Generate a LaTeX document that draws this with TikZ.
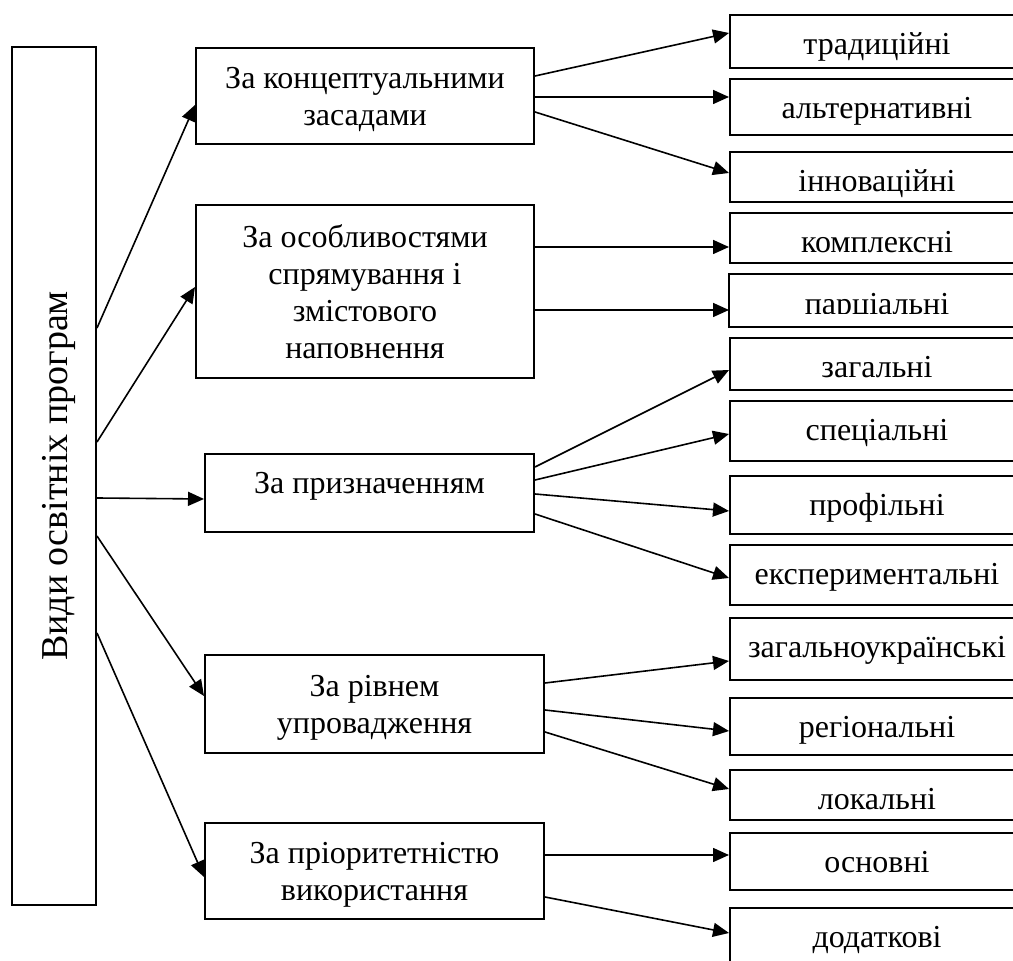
\documentclass[tikz,border=0pt]{standalone}
\usepackage{fontspec}
\setmainfont{Liberation Serif}
\usetikzlibrary{arrows.meta,calc}
\tikzset{
    boxline/.style={draw, line width=1pt, inner sep=0pt, font=\fontsize{16pt}{18.5pt}\selectfont},
    mainbox/.style={boxline, rotate=90, minimum width=429pt, text height=28pt, text depth=14pt, font=\fontsize{19pt}{22pt}\selectfont},
    catbox/.style={boxline, anchor=north west, align=center},
    leafbox/.style={boxline, anchor=north west, minimum width=147pt, text height=20pt, text depth=#1},
    arrow/.style={line width=0.8pt, -{Triangle[length=8pt, width=7pt]}}
}

\begin{document}
\begin{tikzpicture}[x=0.5pt, y=-0.5pt]
	\useasboundingbox (0,0) rectangle (1013,961);
	\clip (0,0) rectangle (1013,961);

	\node (main) [mainbox] at (54,476) {Види освітніх програм};

	\node (c1) [catbox, minimum width=169pt, minimum height=48pt, text depth=0pt] at (195,47) {За концептуальними\\засадами};
	\node (c2) [catbox, minimum width=169pt, minimum height=86.5pt] at (195,204) {За особливостями\\спрямування і\\змістового\\наповнення};
	\node (c3) [catbox, minimum width=164.5pt, text height=20pt, text depth=19pt] at (204,453) {За призначенням};
	\node (c4) [catbox, minimum width=169.5pt, minimum height=49pt, text depth=0pt] at (204,654) {За рівнем\\упровадження};
	\node (c5) [catbox, minimum width=169.5pt, minimum height=48pt, text depth=0pt] at (204,822) {За пріоритетністю\\використання};

	\node (r1) [leafbox=6.5pt] at (729,14) {традиційні};
	\node (r2) [leafbox=8pt] at (729,78) {альтернативні};
	\node (r3) [leafbox=5pt] at (729,151) {інноваційні};
	\node (r4) [leafbox=5pt] at (729,212) {комплексні};
	\begin{scope}
		\clip (729,274) rectangle (1013,314);
		\node (r5) [leafbox=5.5pt, draw=none] at (729,274) {парціальні};
	\end{scope}
	\draw [line width=1pt] (r5.north west) rectangle (r5.south east);
	\node (r6) [leafbox=6pt] at (729,337) {загальні};
	\node (r7) [leafbox=10pt] at (729,400) {спеціальні};
	\node (r8) [leafbox=9pt] at (729,475) {профільні};
	\node (r9) [leafbox=10pt] at (729,544) {експериментальні};
	\node (r10) [leafbox=11pt] at (729,617) {загальноукраїнські};
	\node (r11) [leafbox=8.5pt] at (729,697) {регіональні};
	\node (r12) [leafbox=5pt] at (729,769) {локальні};
	\node (r13) [leafbox=8.5pt] at (729,832) {основні};
	\node (r14) [leafbox=10pt] at (729,907) {додаткові};

	\draw [arrow] ($(main.south)+(0,-148)$) -- ($(c1.west)+(0,9)$);
	\draw [arrow] ($(main.south)+(0,-34)$) -- ($(c2.west)+(0,-4.5)$);
	\draw [arrow] ($(main.south)+(0,22)$) -- ($(c3.west)+(0,6)$);
	\draw [arrow] ($(main.south)+(0,60)$) -- ($(c4.west)+(0,-8)$);
	\draw [arrow] ($(main.south)+(0,157)$) -- ($(c5.west)+(0,6)$);

	\draw [arrow] ($(c1.east)+(0,-20)$) -- ($(r1.west)+(0,-8.5)$);
	\draw [arrow] ($(c1.east)+(0,1)$) -- ($(r2.west)+(0,-10)$);
	\draw [arrow] ($(c1.east)+(0,16)$) -- ($(r3.west)+(0,-4)$);
	\draw [arrow] ($(c2.east)+(0,-44.5)$) -- ($(r4.west)+(0,9)$);
	\draw [arrow] ($(c2.east)+(0,18.5)$) -- ($(r5.west)+(0,9.5)$);
	\draw [arrow] ($(c3.east)+(0,-26)$) -- ($(r6.west)+(0,6)$);
	\draw [arrow] ($(c3.east)+(0,-13)$) -- ($(r7.west)+(0,3)$);
	\draw [arrow] ($(c3.east)+(0,1)$) -- ($(r8.west)+(0,6)$);
	\draw [arrow] ($(c3.east)+(0,21)$) -- ($(r9.west)+(0,3)$);
	\draw [arrow] ($(c4.east)+(0,-21)$) -- ($(r10.west)+(0,12)$);
	\draw [arrow] ($(c4.east)+(0,6)$) -- ($(r11.west)+(0,4.5)$);
	\draw [arrow] ($(c4.east)+(0,28)$) -- ($(r12.west)+(0,-6)$);
	\draw [arrow] ($(c5.east)+(0,-16)$) -- ($(r13.west)+(0,-6.5)$);
	\draw [arrow] ($(c5.east)+(0,26)$) -- ($(r14.west)+(0,-5)$);

\end{tikzpicture}
\end{document}
